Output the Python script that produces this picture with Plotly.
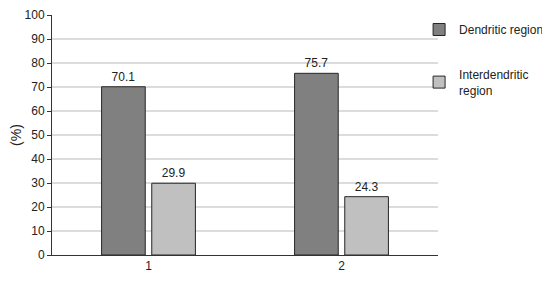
import plotly.graph_objects as go

categories = ["1", "2"]
dendritic = [70.1, 75.7]
interdendritic = [29.9, 24.3]

FONT = "Liberation Sans, Arial, sans-serif"

fig = go.Figure()
fig.add_bar(
    x=categories, y=dendritic, name="Dendritic region",
    marker=dict(color="#808080", line=dict(color="#262626", width=1)),
    text=[f"{v:.1f}" for v in dendritic], textposition="outside",
    legendgroup="a", cliponaxis=False,
)
fig.add_bar(
    x=categories, y=interdendritic, name="Interdendritic<br>region",
    marker=dict(color="#c0c0c0", line=dict(color="#262626", width=1)),
    text=[f"{v:.1f}" for v in interdendritic], textposition="outside",
    legendgroup="b", cliponaxis=False,
)

fig.update_traces(textfont=dict(size=12, color="#222222", family=FONT))

# page body has an 8px margin, so the figure is sized to the visible area
fig.update_layout(
    width=542, height=273,
    margin=dict(l=44, r=112, t=7, b=26, autoexpand=False),
    paper_bgcolor="white", plot_bgcolor="white",
    font=dict(family=FONT, size=12, color="#222222"),
    barmode="group", bargap=0.48, bargroupgap=0.13,
    showlegend=True,
    legend=dict(
        x=0.951, xanchor="left", y=1.0, yanchor="top",
        tracegroupgap=26, font=dict(size=12, color="#222222"),
        bgcolor="rgba(0,0,0,0)",
    ),
    xaxis=dict(
        showline=True, linecolor="#333333", linewidth=1,
        ticks="", showgrid=False, automargin=False,
    ),
    yaxis=dict(
        range=[0, 100], dtick=10, automargin=False,
        showline=True, linecolor="#333333", linewidth=1,
        ticks="outside", ticklen=4, tickcolor="#333333",
        showgrid=True, gridcolor="#dcdcdc", gridwidth=1.5,
        zeroline=False,
        title=dict(text="(%)", standoff=24),
    ),
)

fig.write_html("out.html")
